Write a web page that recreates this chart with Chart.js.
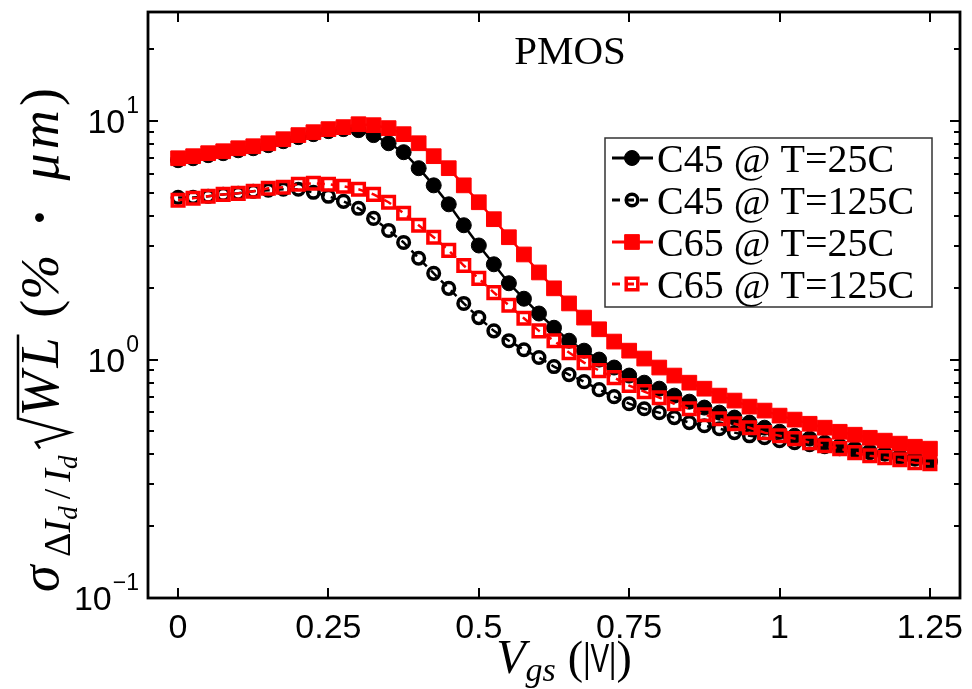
<!DOCTYPE html>
<html>
<head>
<meta charset="utf-8">
<script src="https://cdn.jsdelivr.net/npm/chart.js@4.4.1/dist/chart.umd.min.js"></script>
<style>
  html,body{margin:0;padding:0;background:#fff;}
  canvas{display:block;}
</style>
</head>
<body>
<canvas id="vgsChart" width="972" height="689"></canvas>
<script>
// gate voltage sweep (|V|)
const vgs = [0,0.025,0.05,0.075,0.1,0.125,0.15,0.175,0.2,0.225,0.25,0.275,0.3,0.325,0.35,0.375,0.4,0.425,0.45,0.475,0.5,
  0.525,0.55,0.575,0.6,0.625,0.65,0.675,0.7,0.725,0.75,0.775,0.8,0.825,0.85,0.875,0.9,0.925,0.95,0.975,1,
  1.025,1.05,1.075,1.1,1.125,1.15,1.175,1.2,1.225,1.25];

// sigma(dId/Id)*sqrt(WL), %*um
const c45_25 = [6.86,6.99,7.20,7.34,7.55,7.70,7.93,8.24,8.57,8.82,9.08,9.26,9.17,8.74,8.08,7.41,6.35,5.38,4.48,3.66,3.01,
  2.51,2.09,1.80,1.56,1.36,1.20,1.09,1.00,0.926,0.857,0.800,0.755,0.706,0.666,0.629,0.599,0.571,0.544,0.518,0.498,
  0.479,0.466,0.448,0.435,0.423,0.411,0.403,0.391,0.384,0.373];
const c45_125 = [4.79,4.79,4.84,4.93,4.98,5.08,5.13,5.18,5.18,5.03,4.84,4.61,4.31,3.91,3.48,3.10,2.66,2.30,1.99,1.72,1.50,
  1.32,1.20,1.10,1.02,0.935,0.865,0.808,0.748,0.699,0.653,0.622,0.599,0.571,0.544,0.528,0.513,0.494,0.479,0.470,0.457,
  0.448,0.440,0.431,0.423,0.415,0.407,0.403,0.395,0.388,0.380];
const c65_25 = [6.99,7.13,7.34,7.48,7.70,7.85,8.08,8.40,8.74,8.99,9.26,9.44,9.71,9.62,9.35,8.82,8.08,7.13,6.35,5.38,4.57,
  3.88,3.26,2.76,2.32,1.99,1.72,1.50,1.34,1.19,1.09,1.01,0.926,0.857,0.800,0.755,0.706,0.673,0.635,0.611,0.582,
  0.560,0.538,0.518,0.498,0.484,0.470,0.457,0.444,0.431,0.423];
const c65_125 = [4.66,4.75,4.84,4.93,4.98,5.08,5.23,5.28,5.44,5.49,5.44,5.33,5.18,4.93,4.57,4.11,3.66,3.26,2.87,2.48,2.19,
  1.91,1.69,1.49,1.32,1.20,1.07,0.971,0.899,0.840,0.778,0.734,0.692,0.653,0.622,0.587,0.565,0.538,0.518,0.494,0.479,
  0.466,0.448,0.435,0.423,0.407,0.395,0.388,0.380,0.369,0.366];

const seriesLabels = ['C45 @ T=25C', 'C45 @ T=125C', 'C65 @ T=25C', 'C65 @ T=125C'];

// ticks
const xTicks = [0, 0.25, 0.5, 0.75, 1, 1.25];
const xTickLabels = ['0', '0.25', '0.5', '0.75', '1', '1.25'];
const yTicks = [0.1, 1, 10];
const yTickExp = ['\u22121', '0', '1'];
const yMinorTicks = [0.2,0.3,0.4,0.5,0.6,0.7,0.8,0.9,2,3,4,5,6,7,8,9,20];

const SERIF = '"Liberation Serif", "Times New Roman", serif';
const SANS = '"Liberation Sans", Arial, sans-serif';
const RED = '#ff0000';

function pts(vals){ return vgs.map((x, i) => ({x: x, y: vals[i]})); }

function drawMarker(ctx, ds, x, y){
  ctx.save();
  ctx.lineWidth = ds.pointBorderWidth;
  ctx.strokeStyle = ds.borderColor;
  ctx.fillStyle = ds.pointBackgroundColor;
  ctx.setLineDash([]);
  ctx.beginPath();
  if (ds.pointStyle === 'rect') {
    const s = Math.SQRT1_2 * ds.pointRadius;
    ctx.rect(x - s, y - s, 2*s, 2*s);
  } else {
    ctx.arc(x, y, ds.pointRadius, 0, Math.PI*2);
  }
  ctx.fill(); ctx.stroke();
  ctx.restore();
}

// rotated y title; gaps are stretched so the whole label spans `len` px
function drawYTitle(ctx, x0, y0, len){
  const parts = [
    {t: '\u03C3', f: 'italic 54px ' + SERIF, v: 0},
    {gap: 0.6},
    {t: '\u0394', f: '38px ' + SERIF, v: 12},
    {t: 'I', f: 'italic 38px ' + SERIF, v: 12},
    {t: 'd', f: 'italic 27px ' + SERIF, v: 19},
    {gap: 0.5},
    {t: '/', f: '38px ' + SERIF, v: 12},
    {gap: 0.5},
    {t: 'I', f: 'italic 38px ' + SERIF, v: 12},
    {t: 'd', f: 'italic 27px ' + SERIF, v: 19},
    {gap: 0.5},
    {sqrt: true, t: ['W', 'L'], f: 'italic 54px ' + SERIF},
    {gap: 1.2},
    {t: '(', f: '54px ' + SERIF, v: 0},
    {t: '%', f: 'italic 54px ' + SERIF, v: 0},
    {gap: 2},
    {t: '\u00B7', f: 'bold 54px ' + SERIF, v: 0},
    {gap: 2},
    {t: '\u03BC', f: 'italic 54px ' + SERIF, v: 0},
    {gap: 0.3},
    {t: 'm', f: 'italic 54px ' + SERIF, v: 0},
    {gap: 0.3},
    {t: ')', f: '54px ' + SERIF, v: 0}
  ];
  let natural = 0, gw = 0;
  parts.forEach(p => {
    if (p.gap) { gw += p.gap; return; }
    ctx.font = p.f;
    if (p.sqrt) {
      p.ws = p.t.map(s => ctx.measureText(s).width);
      p.w = 32 + p.ws[0] + 4 + p.ws[1] + 3;
    } else p.w = ctx.measureText(p.t).width;
    natural += p.w;
  });
  const unit = Math.max(0, (len - natural) / gw);
  ctx.save();
  ctx.translate(x0, y0);
  ctx.rotate(-Math.PI/2);
  ctx.fillStyle = '#000';
  ctx.strokeStyle = '#000';
  ctx.textAlign = 'left';
  let u = 0;
  parts.forEach(p => {
    if (p.gap) { u += p.gap * unit; return; }
    ctx.font = p.f;
    if (p.sqrt) {
      ctx.lineWidth = 2.5;
      ctx.beginPath();
      ctx.moveTo(u, -18); ctx.lineTo(u + 6, -22);
      ctx.lineTo(u + 16, 12); ctx.lineTo(u + 30, -40);
      ctx.lineTo(u + p.w, -40);
      ctx.stroke();
      ctx.fillText(p.t[0], u + 32, 0);
      ctx.fillText(p.t[1], u + 32 + p.ws[0] + 4, 0);
    } else {
      ctx.fillText(p.t, u, p.v);
    }
    u += p.w;
  });
  ctx.restore();
}

const overlay = {
  id: 'overlay',
  afterDraw(chart){
    const ctx = chart.ctx, a = chart.chartArea;
    const xs = chart.scales.x, ys = chart.scales.y;
    ctx.save();

    // frame + inward ticks
    ctx.strokeStyle = '#000';
    ctx.lineWidth = 2.8;
    ctx.strokeRect(a.left, a.top, a.right - a.left, a.bottom - a.top);
    ctx.lineWidth = 2;
    ctx.beginPath();
    xTicks.forEach(v => {
      const px = Math.round(xs.getPixelForValue(v));
      ctx.moveTo(px, a.bottom); ctx.lineTo(px, a.bottom - 10);
      ctx.moveTo(px, a.top); ctx.lineTo(px, a.top + 10);
    });
    yTicks.forEach(v => {
      const py = Math.round(ys.getPixelForValue(v));
      ctx.moveTo(a.left, py); ctx.lineTo(a.left + 10, py);
      ctx.moveTo(a.right, py); ctx.lineTo(a.right - 10, py);
    });
    yMinorTicks.forEach(v => {
      const py = Math.round(ys.getPixelForValue(v));
      ctx.moveTo(a.left, py); ctx.lineTo(a.left + 6, py);
      ctx.moveTo(a.right, py); ctx.lineTo(a.right - 6, py);
    });
    ctx.stroke();

    // x tick labels
    ctx.fillStyle = '#000';
    ctx.font = '34px ' + SANS;
    ctx.textAlign = 'center';
    ctx.textBaseline = 'alphabetic';
    xTicks.forEach((v, i) => ctx.fillText(xTickLabels[i], xs.getPixelForValue(v), 638));

    // y tick labels 10^n
    yTicks.forEach((v, i) => {
      const py = ys.getPixelForValue(v);
      ctx.font = '23px ' + SANS;
      const ew = ctx.measureText(yTickExp[i]).width;
      ctx.textAlign = 'left';
      const right = 139;
      ctx.fillText(yTickExp[i], right - ew, py - 8);
      ctx.font = '34px ' + SANS;
      ctx.textAlign = 'right';
      ctx.fillText('10', right - ew - 1, py + 12);
    });

    // title
    ctx.font = '41px ' + SERIF;
    ctx.textAlign = 'center';
    ctx.fillText('PMOS', 570, 64);

    // x axis title: V_gs (|V|)
    ctx.textAlign = 'left';
    const xParts = [
      {t: 'V', f: 'italic 48px ' + SERIF, dy: 0, sx: 1},
      {t: 'gs', f: 'italic 34px ' + SERIF, dy: 8, sx: 1},
      {gap: 12},
      {t: '(', f: '46px ' + SERIF, dy: 0, sx: 1},
      {t: '|V|', f: '40px ' + SANS, dy: -1, sx: 0.7},
      {t: ')', f: '46px ' + SERIF, dy: 0, sx: 1}
    ];
    let tw = 0;
    xParts.forEach(p => { if (p.gap) { tw += p.gap; return; } ctx.font = p.f; p.w = ctx.measureText(p.t).width * p.sx; tw += p.w; });
    let cx = 564 - tw/2;
    xParts.forEach(p => {
      if (p.gap) { cx += p.gap; return; }
      ctx.font = p.f;
      ctx.save();
      ctx.translate(cx, 673 + p.dy);
      ctx.scale(p.sx, 1);
      ctx.fillText(p.t, 0, 0);
      ctx.restore();
      cx += p.w;
    });

    // y axis title
    drawYTitle(ctx, 58, 592, 504);

    // legend
    const lx = 605, ly = 138, lw = 327, lh = 169;
    ctx.fillStyle = '#fff';
    ctx.fillRect(lx, ly, lw, lh);
    ctx.strokeStyle = '#333';
    ctx.lineWidth = 1.5;
    ctx.strokeRect(lx, ly, lw, lh);
    chart.data.datasets.forEach((ds, i) => {
      const ry = 158 + i*42;
      ctx.strokeStyle = ds.borderColor;
      ctx.lineWidth = 3;
      ctx.setLineDash(ds.borderDash || []);
      ctx.beginPath();
      ctx.moveTo(612, ry); ctx.lineTo(653, ry);
      ctx.stroke();
      ctx.setLineDash([]);
      drawMarker(ctx, ds, 632, ry);
      ctx.fillStyle = '#000';
      ctx.font = '40px ' + SERIF;
      ctx.textAlign = 'left';
      ctx.fillText(ds.label, 657, ry + 14);
    });

    ctx.restore();
  }
};

new Chart(document.getElementById('vgsChart'), {
  type: 'line',
  data: {
    datasets: [
      {label: seriesLabels[0], data: pts(c45_25), borderColor: '#000', backgroundColor: '#000',
        borderWidth: 2.5, pointStyle: 'circle', pointRadius: 7.5, pointBorderWidth: 1,
        pointBackgroundColor: '#000', order: 2},
      {label: seriesLabels[1], data: pts(c45_125), borderColor: '#000', backgroundColor: '#000',
        borderWidth: 2.5, borderDash: [8, 6], pointStyle: 'circle', pointRadius: 5.8, pointBorderWidth: 3.5,
        pointBackgroundColor: 'rgba(0,0,0,0)', order: 3},
      {label: seriesLabels[2], data: pts(c65_25), borderColor: RED, backgroundColor: RED,
        borderWidth: 2.5, pointStyle: 'rect', pointRadius: 10.4, pointBorderWidth: 1,
        pointBackgroundColor: RED, order: 0},
      {label: seriesLabels[3], data: pts(c65_125), borderColor: RED, backgroundColor: RED,
        borderWidth: 2.5, borderDash: [8, 6], pointStyle: 'rect', pointRadius: 8.2, pointBorderWidth: 3.5,
        pointBackgroundColor: 'rgba(0,0,0,0)', order: 1}
    ]
  },
  options: {
    responsive: false,
    animation: false,
    devicePixelRatio: 1,
    events: [],
    layout: {padding: {top: 12, right: 12, left: 0, bottom: 0}},
    plugins: {legend: {display: false}, tooltip: {enabled: false}, title: {display: false}},
    elements: {line: {tension: 0}},
    scales: {
      x: {
        type: 'linear', min: -0.05, max: 1.3,
        grid: {display: false}, border: {display: false},
        ticks: {display: false},
        afterFit(s){ s.height = 91; }
      },
      y: {
        type: 'logarithmic', min: 0.1, max: 28.7,
        grid: {display: false}, border: {display: false},
        ticks: {display: false},
        afterFit(s){ s.width = 148; }
      }
    }
  },
  plugins: [overlay]
});
</script>
</body>
</html>
